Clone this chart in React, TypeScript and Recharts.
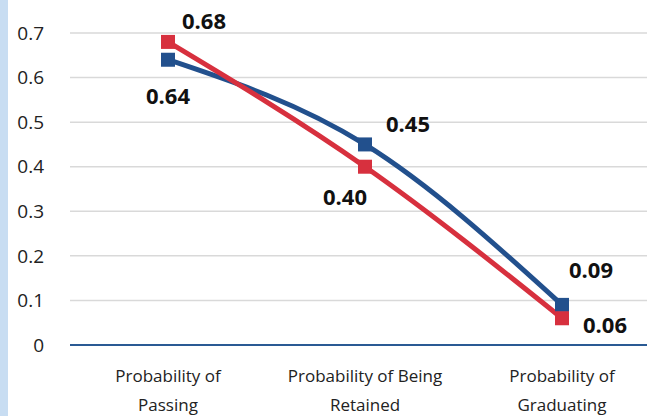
import { LineChart, Line, XAxis, YAxis, CartesianGrid } from "recharts"

const categories = ["Probability of|Passing", "Probability of Being|Retained", "Probability of|Graduating"]
const blueValues = [0.64, 0.45, 0.09]
const redValues = [0.68, 0.4, 0.06]
const yTicks = [0, 0.1, 0.2, 0.3, 0.4, 0.5, 0.6, 0.7]

// label placement relative to each point (styling, not data)
const blueLabelOffsets = [[0, 35], [43, -21], [29, -36]]
const redLabelOffsets = [[36, -22], [-20, 29], [43, 6]]

const BLUE = "#22508d"
const RED = "#d7303e"
const FONT = "'Open Sans', 'Noto Sans', sans-serif"

const data = categories.map((name, i) => ({
  name,
  blue: blueValues[i],
  red: redValues[i],
}))

function makeLabel(offsets: number[][]) {
  return (props: any) => {
    const { x, y, value, index } = props
    const [dx, dy] = offsets[index] || [0, 0]
    return (
      <text
        x={x + dx}
        y={y + dy}
        textAnchor="middle"
        dominantBaseline="central"
        fontFamily={FONT}
        fontSize={22}
        fontWeight={700}
        fill="#111"
      >
        {Number(value).toFixed(2)}
      </text>
    )
  }
}

function SquareDot(color: string) {
  return (props: any) => {
    const { cx, cy, index } = props
    return <rect key={index} x={cx - 7} y={cy - 7} width={14} height={14} fill={color} />
  }
}

function CategoryTick(props: any) {
  const { x, y, payload } = props
  const lines = String(payload.value).split("|")
  return (
    <g>
      {lines.map((line, i) => (
        <text
          key={i}
          x={x}
          y={y + 29 + i * 29}
          textAnchor="middle"
          fontFamily={FONT}
          fontSize={17}
          fill="#222"
        >
          {line}
        </text>
      ))}
    </g>
  )
}

export default function App() {
  return (
    <div style={{ position: "absolute", left: 0, top: 0, width: 647, height: 416, overflow: "hidden", background: "#fff" }}>
      <div style={{ position: "absolute", left: 0, top: 0, width: 8, height: 416, background: "#c8ddf2", zIndex: 2 }} />
      <LineChart width={660} height={416} data={data} margin={{ top: 33, right: 0, bottom: 0, left: 0 }}>
        <CartesianGrid vertical={false} stroke="#d9d9d9" strokeWidth={1.5} />
        <XAxis
          dataKey="name"
          height={71}
          tickLine={false}
          axisLine={{ stroke: "#2a5a94", strokeWidth: 2 }}
          tick={<CategoryTick />}
          interval={0}
          padding={{ left: 98, right: 98 }}
        />
        <YAxis
          width={70}
          domain={[0, 0.7]}
          ticks={yTicks}
          tickLine={false}
          axisLine={false}
          tickSize={0}
          tickMargin={26}
          tick={{ fontFamily: FONT, fontSize: 19, fill: "#222" }}
          tickFormatter={(v) => (v === 0 ? "0" : String(v))}
        />
        <Line
          type="monotone"
          dataKey="blue"
          stroke={BLUE}
          strokeWidth={5}
          dot={SquareDot(BLUE)}
          label={makeLabel(blueLabelOffsets)}
          isAnimationActive={false}
        />
        <Line
          type="monotone"
          dataKey="red"
          stroke={RED}
          strokeWidth={5}
          dot={SquareDot(RED)}
          label={makeLabel(redLabelOffsets)}
          isAnimationActive={false}
        />
      </LineChart>
    </div>
  )
}
